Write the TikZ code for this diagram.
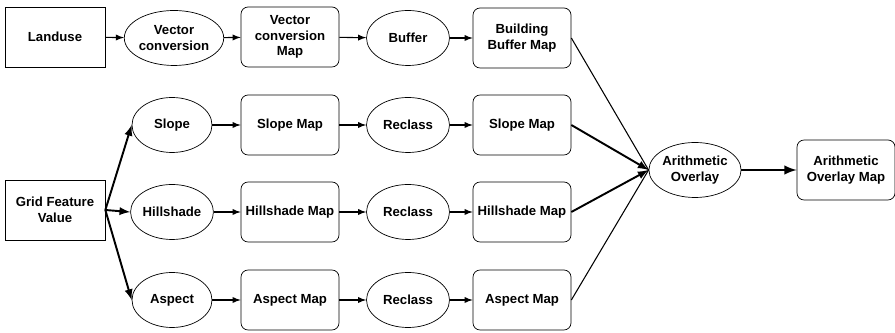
\documentclass[tikz,border=0pt]{standalone}
\usepackage{fontspec}
\setmainfont{Liberation Sans}
\usetikzlibrary{shapes.geometric}

\tikzset{
  lbl/.style={font=\bfseries\fontsize{7.5}{9}\selectfont,align=center},
  flat/.style={lbl,draw,thin,minimum width=2cm,minimum height=1.2cm,inner sep=1pt},
  mapbox/.style={flat,rounded corners=4pt,minimum width=1.96cm},
  proc/.style={lbl,draw,thin,ellipse,minimum width=1.6cm,minimum height=1.1cm,inner sep=0pt},
}

\begin{document}
\begin{tikzpicture}[x=0.02cm,y=-0.02cm,
    link/.style={semithick,-latex},
    feed/.style={line width=1.1pt,-latex},
    merge/.style={semithick}]
    \path[use as bounding box] (0,0) rectangle (895,333);

    % top row
    \node[flat]   (land) at (55,37)  {Landuse};
    \node[proc]   (vc)   at (174,38) {Vector\\conversion};
    \node[mapbox] (vcm)  at (290,37) {Vector\\conversion\\Map};
    \node[proc, minimum width=1.66cm] (buf) at (408,38) {Buffer};
    \node[mapbox] (bbm)  at (522,38) {Building\\Buffer Map};

    % grid rows
    \node[flat] (gfv) at (55,210) {Grid Feature\\Value};
    \foreach \nm/\txt/\y in {slope/Slope/125,hill/Hillshade/212,asp/Aspect/300} {
        \node[proc]   (\nm)  at (172,\y) {\txt};
        \node[mapbox] (\nm m) at (290,\y) {\txt{} Map};
        \node[proc, minimum width=1.66cm] (\nm r) at (408,\y) {Reclass};
        \node[mapbox] (\nm o) at (522,\y) {\txt{} Map};
        \draw[feed] (gfv.east) -- (\nm.west);
        \draw[link] (\nm) -- (\nm m);
        \draw[link] (\nm m) -- (\nm r);
        \draw[link] (\nm r) -- (\nm o);
    }

    \node[proc] (ao) at (695,170) {Arithmetic\\Overlay};
    \node[mapbox] (aom) at (846,170) {Arithmetic\\Overlay Map};

    \draw[link] (land) -- (vc);
    \draw[link] (vc) -- (vcm);
    \draw[link] (vcm) -- (buf);
    \draw[link] (buf) -- (bbm);

    \draw[merge] (bbm.east) -- (ao.west);
    \draw[feed] (slopeo.east) -- (ao.west);
    \draw[feed] (hillo.east) -- (ao.west);
    \draw[merge] (aspo.east) -- (ao.west);
    \draw[line width=1.4pt,-latex] (ao) -- (aom);
\end{tikzpicture}
\end{document}
